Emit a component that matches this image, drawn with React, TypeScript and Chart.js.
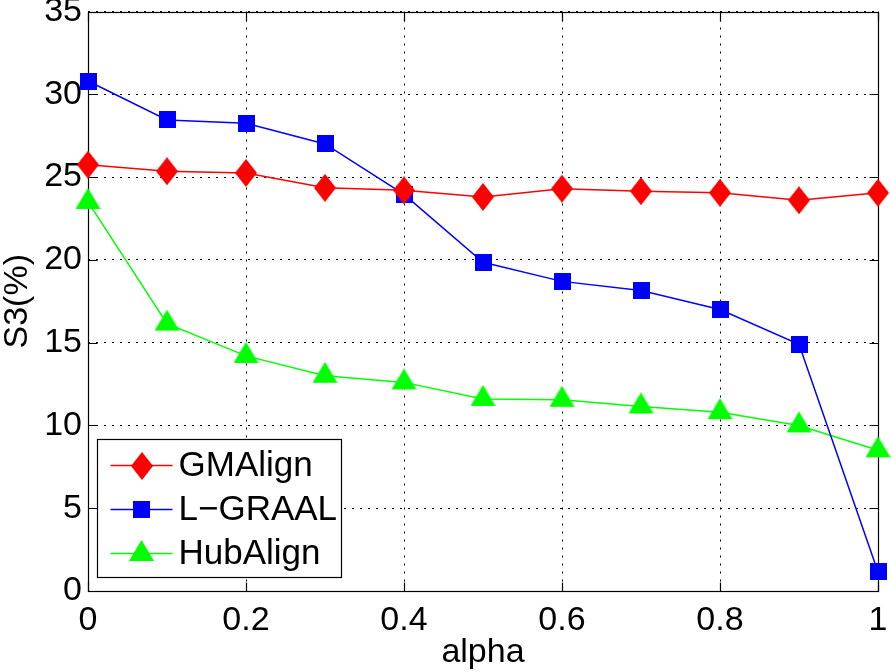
import React, { useEffect, useRef } from 'react';
import { Chart, registerables } from 'chart.js';
Chart.register(...registerables);

const alphaValues = [0, 0.1, 0.2, 0.3, 0.4, 0.5, 0.6, 0.7, 0.8, 0.9, 1];
const gmAlign = [25.75, 25.35, 25.25, 24.35, 24.2, 23.8, 24.3, 24.15, 24.05, 23.6, 24.05];
const lGraal = [30.8, 28.45, 28.25, 27.0, 23.95, 19.85, 18.7, 18.15, 17.0, 14.9, 1.15];
const hubAlign = [23.5, 16.15, 14.2, 13.0, 12.6, 11.6, 11.55, 11.15, 10.8, 10.0, 8.5];
const seriesNames = ['GMAlign', 'L\u2212GRAAL', 'HubAlign'];
const seriesColors = ['#ff0000', '#0000ff', '#00ff00'];
const xTicks = [0, 0.2, 0.4, 0.6, 0.8, 1];
const xTickLabels = ['0', '0.2', '0.4', '0.6', '0.8', '1'];
const yTicks = [0, 5, 10, 15, 20, 25, 30, 35];
const yTickLabels = ['0', '5', '10', '15', '20', '25', '30', '35'];
const xTitle = 'alpha';
const yTitle = 'S3(%)';

const FONT = "'Liberation Sans', Arial, Helvetica, sans-serif";

function makeMarker(kind: string, color: string): HTMLCanvasElement {
  const c = document.createElement('canvas');
  let w = 22, h = 28;
  if (kind === 'square') { w = 17; h = 17; }
  if (kind === 'triangle') { w = 25; h = 28; }
  c.width = w; c.height = h;
  const ctx = c.getContext('2d')!;
  ctx.fillStyle = color;
  ctx.beginPath();
  if (kind === 'diamond') {
    ctx.moveTo(w / 2, 0); ctx.lineTo(w, h / 2); ctx.lineTo(w / 2, h); ctx.lineTo(0, h / 2);
  } else if (kind === 'square') {
    ctx.rect(0, 0, w, h);
  } else {
    ctx.moveTo(w / 2, 0); ctx.lineTo(w, 21); ctx.lineTo(0, 21);
  }
  ctx.closePath();
  ctx.fill();
  return c;
}

export default function App() {
  const ref = useRef<HTMLCanvasElement>(null);
  useEffect(() => {
    if (!ref.current) return;
    const markers = [
      makeMarker('diamond', seriesColors[0]),
      makeMarker('square', seriesColors[1]),
      makeMarker('triangle', seriesColors[2]),
    ];
    const seriesValues = [gmAlign, lGraal, hubAlign];

    const framePlugin = {
      id: 'frame',
      beforeDatasetsDraw(chart: any) {
        const { ctx, chartArea } = chart;
        const l = Math.round(chartArea.left) + 0.5;
        const t = Math.round(chartArea.top) + 0.5;
        const r = Math.round(chartArea.right) + 0.5;
        const b = Math.round(chartArea.bottom) + 0.5;
        ctx.save();
        ctx.strokeStyle = '#000';
        ctx.lineWidth = 1.2;
        ctx.setLineDash([]);
        ctx.strokeRect(l, t, r - l, b - t);
        const tl = 9;
        ctx.beginPath();
        const xs = chart.scales.x, ys = chart.scales.y;
        xTicks.forEach((v) => {
          const px = Math.round(xs.getPixelForValue(v)) + 0.5;
          ctx.moveTo(px, b); ctx.lineTo(px, b - tl);
          ctx.moveTo(px, t); ctx.lineTo(px, t + tl);
        });
        yTicks.forEach((v) => {
          const py = Math.round(ys.getPixelForValue(v)) + 0.5;
          ctx.moveTo(l, py); ctx.lineTo(l + tl, py);
          ctx.moveTo(r, py); ctx.lineTo(r - tl, py);
        });
        ctx.stroke();
        ctx.restore();
      },
      afterDraw(chart: any) {
        const { ctx, chartArea } = chart;
        const bx = Math.round(chartArea.left) + 9.5;
        const by = Math.round(chartArea.bottom) - 152 + 0.5;
        const bw = 244, bh = 138;
        ctx.save();
        ctx.fillStyle = '#fff';
        ctx.fillRect(bx, by, bw, bh);
        ctx.strokeStyle = '#000';
        ctx.lineWidth = 1.2;
        ctx.strokeRect(bx, by, bw, bh);
        seriesNames.forEach((name, i) => {
          const y = by + 26 + i * 44;
          ctx.strokeStyle = seriesColors[i];
          ctx.lineWidth = 1.5;
          ctx.beginPath();
          ctx.moveTo(bx + 13, y); ctx.lineTo(bx + 75, y);
          ctx.stroke();
          const m = markers[i];
          ctx.drawImage(m, Math.round(bx + 44 - m.width / 2), Math.round(y - m.height / 2));
          ctx.fillStyle = '#000';
          ctx.font = `35px ${FONT}`;
          ctx.textBaseline = 'middle';
          ctx.textAlign = 'left';
          ctx.fillText(name, bx + 81, y + 1);
        });
        ctx.restore();
      },
    };

    const chart = new Chart(ref.current, {
      type: 'line',
      data: {
        datasets: seriesNames.map((name, i) => ({
          label: name,
          data: alphaValues.map((a, j) => ({ x: a, y: seriesValues[i][j] })),
          borderColor: seriesColors[i],
          backgroundColor: seriesColors[i],
          borderWidth: 1.5,
          pointStyle: markers[i] as any,
          pointRadius: 10,
          pointHoverRadius: 10,
          tension: 0,
          clip: false as any,
        })),
      },
      options: {
        animation: false,
        responsive: false,
        events: [],
        layout: { padding: { top: 11, right: 13, left: 0, bottom: 0 } },
        plugins: { legend: { display: false }, tooltip: { enabled: false } },
        scales: {
          x: {
            type: 'linear',
            min: 0,
            max: 1,
            afterBuildTicks: (s: any) => { s.ticks = xTicks.map((v) => ({ value: v })); },
            afterFit: (s: any) => { s.height = 81; s.paddingLeft = 0; s.paddingRight = 0; },
            ticks: {
              callback: (v: any, i: number) => xTickLabels[i],
              color: '#000',
              font: { family: FONT, size: 34 },
              padding: 9,
              maxRotation: 0,
              autoSkip: false,
            },
            grid: { color: '#000', lineWidth: 1, drawTicks: false },
            border: { display: false, dash: [2, 6] },
            title: {
              display: true,
              text: xTitle,
              color: '#000',
              font: { family: FONT, size: 34, lineHeight: 1 },
              padding: { top: 0, bottom: 2 },
            },
          },
          y: {
            type: 'linear',
            min: 0,
            max: 35,
            afterBuildTicks: (s: any) => { s.ticks = yTicks.map((v) => ({ value: v })); },
            afterFit: (s: any) => { s.width = 88; s.paddingTop = 0; s.paddingBottom = 0; },
            ticks: {
              callback: (v: any, i: number) => yTickLabels[i],
              color: '#000',
              font: { family: FONT, size: 34 },
              padding: 6,
              autoSkip: false,
            },
            grid: { color: '#000', lineWidth: 1, drawTicks: false },
            border: { display: false, dash: [2, 6] },
            title: {
              display: true,
              text: yTitle,
              color: '#000',
              font: { family: FONT, size: 34, lineHeight: 1 },
              padding: { top: 1, bottom: 0 },
            },
          },
        },
      },
      plugins: [framePlugin],
    } as any);
    return () => chart.destroy();
  }, []);
  return (
    <div style={{ position: 'absolute', left: 0, top: 0, width: 891, height: 672, background: '#fff' }}>
      <canvas ref={ref} width={891} height={672} style={{ display: 'block' }} />
    </div>
  );
}
